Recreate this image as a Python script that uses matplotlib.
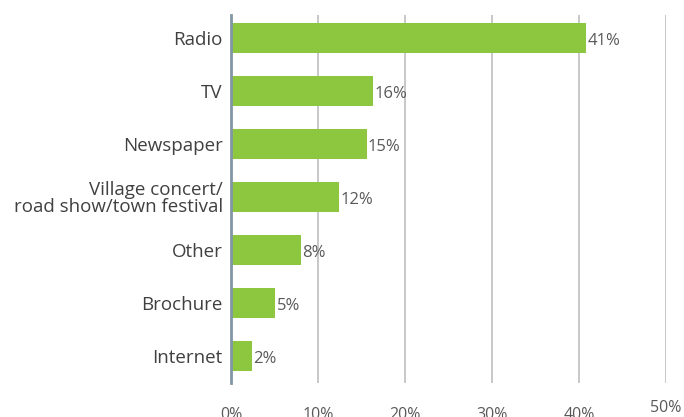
import matplotlib
matplotlib.use("Agg")
import matplotlib.pyplot as plt
import matplotlib.transforms as mtransforms

categories = ["Radio", "TV", "Newspaper", "Village concert/\nroad show/town festival",
              "Other", "Brochure", "Internet"]
values = [40.8, 16.3, 15.6, 12.4, 8.0, 5.1, 2.4]
value_labels = ["41%", "16%", "15%", "12%", "8%", "5%", "2%"]
xticks = [0, 10, 20, 30, 40, 50]
xtick_labels = ["0%", "10%", "20%", "30%", "40%", "50%"]

plt.rcParams['font.family'] = ['Open Sans', 'DejaVu Sans']

fig = plt.figure(figsize=(6.84, 4.17), dpi=100)
ax = fig.add_axes([231/684, 1-383/417, (666-231)/684, (383-15)/417])

y = list(range(len(categories)))
ax.barh(y, values, height=0.58, color="#8DC63F", zorder=3)
for yi, v, lab in zip(y, values, value_labels):
    ax.text(v + 0.15, yi + 0.06, lab, va="center", ha="left", fontsize=12, color="#595959")

ax.set_xlim(0, 50)
ax.set_ylim(6.51, -0.434)
ax.set_yticks(y)
ax.set_yticklabels(categories, fontsize=13.5, color="#404040", linespacing=0.95)
ax.tick_params(axis="y", length=0, pad=6)
ax.set_xticks(xticks)
ax.set_xticklabels(xtick_labels, fontsize=11.5, color="#595959")
ax.tick_params(axis="x", length=0, pad=17.5)
for lbl in ax.get_xticklabels()[-1:]:
    lbl.set_transform(lbl.get_transform() + mtransforms.ScaledTranslation(0, 7/100, fig.dpi_scale_trans))

ax.grid(axis="x", color="#bfbfbf", linewidth=1.2, zorder=0)
for s in ["top", "right", "bottom"]:
    ax.spines[s].set_visible(False)
ax.spines["left"].set_color("#8296a3")
ax.spines["left"].set_linewidth(2)
ax.spines["left"].set_zorder(4)

fig.savefig("out.png", dpi=100)
